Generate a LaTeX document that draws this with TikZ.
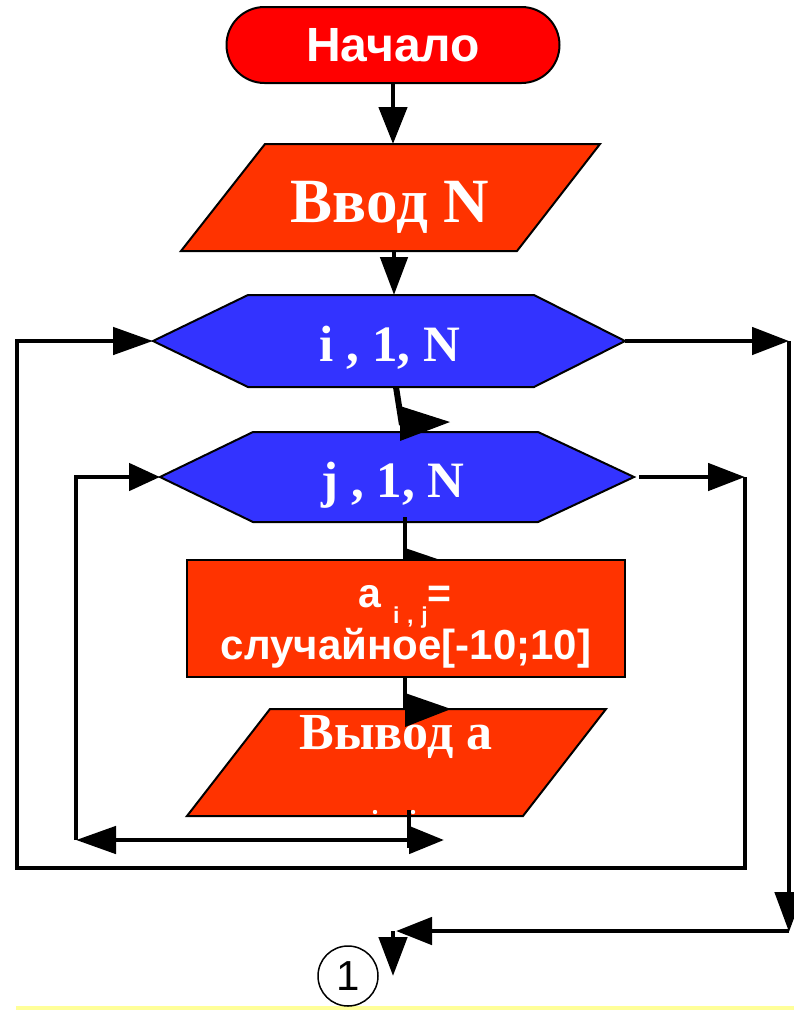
\documentclass[tikz,border=0pt]{standalone}
\usepackage{fontspec}
\newfontfamily\sansf{Liberation Sans}
\newfontfamily\seriff{Liberation Serif}
\usetikzlibrary{arrows.meta}
\definecolor{startred}{HTML}{FF0000}
\definecolor{procred}{HTML}{FF3300}
\definecolor{loopblue}{HTML}{3333FF}
\definecolor{lineyellow}{HTML}{FFFF99}
\begin{document}
\begin{tikzpicture}[x=1pt,y=-1pt,
  flow/.style={line width=4.8pt,line join=miter},
  shapeline/.style={draw=black,line width=2pt},
  lbl/.style={text=white,inner sep=0pt},
  serifbig/.style={lbl,font=\seriff\bfseries\fontsize{#1}{#1}\selectfont},
  sansbig/.style={lbl,font=\sansf\bfseries\fontsize{#1}{#1}\selectfont},
]
\useasboundingbox (0,0) rectangle (794,1010);
\fill[lineyellow] (16,1006) rectangle (794,1010);

% start
\node[shapeline, fill=startred, rounded corners=38pt, minimum width=333pt,
      minimum height=76pt, sansbig=48] (start) at (393,45) {Начало};

% input
\draw[shapeline, fill=procred] (265,144) -- (600,144) -- (517,251) -- (181,251) -- cycle;
\node[serifbig=63, anchor=base] (input) at (390,222) {Ввод N};
\coordinate (inTop) at (393,144);
\coordinate (inBot) at (394,251);

% hexagon i
\draw[shapeline, fill=loopblue] (153,341) -- (248,295) -- (534,295) -- (625,341) -- (534,387) -- (248,387) -- cycle;
\node[serifbig=51, anchor=base] (loopi) at (390,361) {i , 1, N};
\coordinate (hiL) at (153,341);
\coordinate (hiR) at (625,341);
\coordinate (hiT) at (394,295);
\coordinate (hiB) at (396,387);

% hexagon j
\draw[shapeline, fill=loopblue] (160,477) -- (253,432) -- (538,432) -- (634,477) -- (538,522) -- (253,522) -- cycle;
\node[serifbig=51, anchor=base] (loopj) at (393,497) {j , 1, N};
\coordinate (hjL) at (160,477);
\coordinate (hjR) at (639,477);
\coordinate (hjT) at (402,425);
\coordinate (hjB) at (405,517);

% connectors top
\draw[flow, -{Triangle[length=37pt,width=28pt]}] (start.south) -- (inTop);
\draw[flow, -{Triangle[length=38pt,width=27pt]}] (inBot) -- (hiT);
\draw[line width=6pt] (hiB) -- (hjT);
\fill (400,406) -- (450,422) -- (400,441) -- cycle;

% j to assign
\draw[flow] (hjB) -- (405,562);
\fill (405,548) -- (455,565) -- (405,582) -- cycle;

% assign
\node[shapeline, fill=procred, minimum width=438pt, minimum height=117pt, inner sep=0pt] (assign) at (406,618.5) {};
\node[sansbig=41, anchor=base] (assignA) at (405,607)
  {a\hspace{12pt}\raisebox{-16pt}{\fontsize{23}{23}\selectfont i\,\,,\,\,j}=};
\node[sansbig=42, anchor=base] (assignB) at (406,659) {случайное[-10;10]};

% output
\draw[flow] (assign.south) ++(-1,0) coordinate (asB) -- (405,712);
\draw[shapeline, fill=procred] (270,709) -- (606,709) -- (523,816) -- (187,816) -- cycle;
\node[serifbig=52, anchor=base] (output) at (396,749) {Вывод а};
\fill (405,693) -- (451,709) -- (405,727) -- cycle;
\fill[white] (375,812) circle (2.2pt) (413,812) circle (2.2pt);
\coordinate (outB) at (409,810);

% inner loop
\draw[flow] (outB) -- (409,848);
\draw[flow, {Triangle[length=40pt,width=27pt]}-{Triangle[length=35pt,width=27pt]}] (76,840) -- (444,840);
\draw[flow, -{Triangle[length=31pt,width=27pt]}] (76,840) -- (76,477) -- (hjL);

% j exit / outer return
\draw[flow, -{Triangle[length=37pt,width=27pt]}] (hjR) -- (745,477);
\draw[flow, -{Triangle[length=40pt,width=27pt]}] (745,477) -- (745,868) -- (17,868) -- (17,341) -- (hiL);

% i exit
\coordinate (iExA) at (789,341);
\coordinate (iExB) at (789,932);
\coordinate (joinP) at (396,931);
\draw[flow, -{Triangle[length=37pt,width=27pt]}] (hiR) -- (iExA);
\draw[flow, -{Triangle[length=40pt,width=28pt]}] (iExA) -- (iExB);
\draw[flow, -{Triangle[length=36pt,width=27pt]}] (789,931) -- (joinP);
\draw[flow, -{Triangle[length=39pt,width=28pt]}] (393,931) -- (393,976);

% connector circle
\node[circle, draw, line width=1.5pt, minimum size=60pt, inner sep=0pt,
      font=\sansf\fontsize{42}{42}\selectfont] (conn1) at (348,976) {1};
\end{tikzpicture}
\end{document}
